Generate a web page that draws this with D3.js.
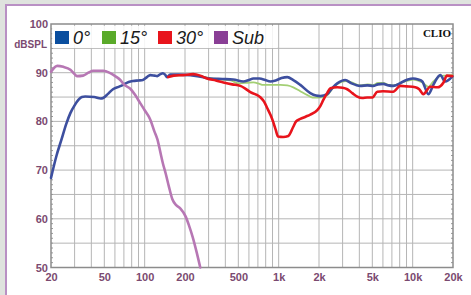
<!DOCTYPE html>
<html><head><meta charset="utf-8">
<script src="https://cdn.jsdelivr.net/npm/d3@7"></script>
<style>html,body{margin:0;padding:0;background:#dfe3de;}svg{display:block;}</style>
</head><body>
<svg id="c" width="471" height="295"></svg>
<script>
// ---- data ----
const seriesNames = ["0°", "15°", "30°", "Sub"];
const seriesColors = ["#3d4f9f", "#a3cf74", "#e8141c", "#b777b4"];
const legendColors = ["#0b4f9f", "#5aaa2a", "#e8141c", "#8a3f96"];
const yTicks = [50, 60, 70, 80, 90, 100];
const xTickValues = [20, 50, 100, 200, 500, 1000, 2000, 5000, 10000, 20000];
const xTickLabels = ["20", "50", "100", "200", "500", "1k", "2k", "5k", "10k", "20k"];

const sub = [[20,90.2],[22.3,91.4],[24.7,91.2],[27.9,90.6],[30,89.7],[31.2,89.3],[34.7,89.4],[38,90],[41.3,90.4],[49,90.4],[55.4,89.9],[61,89.2],[65.8,88.5],[70,87.6],[78.2,86.7],[85,85.4],[92.9,83.7],[100,82.3],[110,80.4],[118,78],[124.5,76.3],[131.6,73.4],[137,71.3],[143.5,69.3],[152,66.5],[161,64],[172,62.8],[185,62.1],[202,60.5],[215,58.5],[228,56.3],[245,53],[260,50]];
const deg0 = [[20,68.4],[22,73],[23.9,76.2],[26,79.5],[27.9,81.7],[30,83.3],[32,84.4],[34,85],[36,85.1],[42,85],[47,84.7],[49,84.8],[53,85.6],[58,86.6],[64,87.1],[69,87.5],[76,88.1],[82,88.3],[90,88.4],[97,88.5],[104,89.1],[110,89.5],[118,89.4],[124,89.3],[131,89.7],[137,89.9],[142,89.6],[147,89.1],[155,89.6],[180,89.6],[219,89.5],[260,89.2],[309,88.8],[380,88.7],[458,88.6],[545,88.2],[600,88.5],[647,88.8],[720,88.8],[794,88.5],[866,88.2],[950,88.4],[1050,88.9],[1160,89.1],[1286,88.5],[1450,87.5],[1722,85.8],[1900,85.3],[2045,85.2],[2306,85.6],[2500,86.8],[2738,87.8],[3140,88.5],[3500,87.8],[4065,87.3],[4600,87.4],[5080,87.3],[5500,87.6],[6040,87.7],[6600,87.4],[7160,87.3],[8510,88.2],[9200,88.6],[10100,88.8],[11000,88.6],[11800,88.2],[13100,85.6],[14260,87.5],[16080,89.5],[17500,88.2],[19770,89.2]];
const deg15 = [[150,89.2],[194,89.5],[230,89.6],[292,89],[380,88.6],[440,88.4],[500,87.8],[560,87.9],[647,88],[720,87.7],[763,87.5],[850,87.5],[1030,87.5],[1160,87.4],[1286,87],[1450,86.2],[1640,85.4],[1790,84.9],[2000,84.9],[2306,85.4],[2500,86.6],[2738,87.7],[3140,88.3],[3500,88],[4065,87.4],[4600,87.6],[5080,87.5],[5500,87.9],[6040,87.9],[6600,87.5],[7160,87.4],[8510,88.1],[10100,88.6],[11800,88],[13100,87.1],[14260,88.2],[16080,89.3],[17500,89.4],[19770,89.5]];
const deg30 = [[150,89.1],[165,89.4],[194,89.5],[230,89.7],[260,89.4],[292,88.8],[340,88.4],[387,88],[450,87.6],[517,87.3],[560,86.8],[615,86],[680,85.5],[733,84.9],[780,84],[823,82.7],[870,81.3],[910,79.9],[950,78.3],[990,76.9],[1080,76.8],[1180,77],[1286,78.9],[1350,80],[1450,80.5],[1600,81],[1722,81.4],[1942,82.3],[2050,83.2],[2154,84.4],[2300,85.8],[2430,86.8],[2738,87],[3000,86.9],[3250,86.6],[3550,85.8],[3860,85.1],[4200,84.8],[4580,84.9],[5000,84.9],[5450,86.1],[6000,86.2],[7160,86.1],[8090,87.3],[9000,87.2],[10470,87],[11200,86.6],[12000,85.6],[13540,87.1],[15280,87],[17000,88],[18000,89.4],[19770,89.3]];

// ---- drawing ----
const svg = d3.select("#c");
const L = 51, R = 453, T = 24, B = 267.5;
const x = d3.scaleLog().domain([20, 20000]).range([L, R]);
const y = d3.scaleLinear().domain([50, 100]).range([B, T]);

// panel
svg.append("rect").attr("x", 6).attr("y", 5).attr("width", 480).attr("height", 300)
  .attr("fill", "#fff").attr("stroke", "#b990c4").attr("stroke-width", 2);

// grid
const g = svg.append("g");
const vGrid = [];
for (const dec of [10, 100, 1000, 10000]) for (let k = 1; k <= 9; k++) { const f = k * dec; if (f > 20 && f < 20000) vGrid.push(f); }
g.selectAll(".vg").data(vGrid).join("line")
  .attr("x1", d => x(d)).attr("x2", d => x(d)).attr("y1", T).attr("y2", B)
  .attr("stroke", "#b5b5b5").attr("stroke-width", 1);
const hGrid = d3.range(55, 100, 5);
g.selectAll(".hg").data(hGrid).join("line")
  .attr("x1", L).attr("x2", R).attr("y1", d => y(d)).attr("y2", d => y(d))
  .attr("stroke", "#b5b5b5").attr("stroke-width", 1);

// minor ticks on left/right
const minor = d3.range(51, 100, 1);
g.selectAll(".ml").data(minor).join("line")
  .attr("x1", L).attr("x2", L + 2).attr("y1", d => y(d)).attr("y2", d => y(d)).attr("stroke", "#999");
g.selectAll(".mr").data(minor).join("line")
  .attr("x1", R - 2).attr("x2", R).attr("y1", d => y(d)).attr("y2", d => y(d)).attr("stroke", "#999");

// frame
svg.append("rect").attr("x", L).attr("y", T).attr("width", R - L).attr("height", B - T)
  .attr("fill", "none").attr("stroke", "#8c8c8c").attr("stroke-width", 1.5);

// legend background
svg.append("rect").attr("x", 52).attr("y", 26).attr("width", 225).attr("height", 22)
  .attr("fill", "#fff").attr("fill-opacity", 0.85);

// curves
const line = d3.line().x(d => x(d[0])).y(d => y(d[1])).curve(d3.curveMonotoneX);
const order = [[deg15, 1], [deg0, 0], [deg30, 2], [sub, 3]];
svg.append("g").selectAll("path").data(order).join("path")
  .attr("d", d => line(d[0])).attr("fill", "none")
  .attr("stroke", d => seriesColors[d[1]]).attr("stroke-width", d => d[1] === 1 ? 1.8 : 2.6)
  .attr("stroke-linejoin", "round").attr("stroke-linecap", "round");

// legend
const legX = [55, 102, 158, 214];
const lg = svg.append("g");
seriesNames.forEach((n, i) => {
  lg.append("rect").attr("x", legX[i]).attr("y", 31).attr("width", 14).attr("height", 13).attr("fill", legendColors[i]);
  lg.append("text").attr("x", legX[i] + 18).attr("y", 44).text(n)
    .attr("font-family", "Liberation Sans, Arial, sans-serif").attr("font-style", "italic")
    .attr("font-size", 18).attr("fill", "#1a1a1a");
});

// CLIO
svg.append("text").attr("x", 451).attr("y", 37).attr("text-anchor", "end").text("CLIO")
  .attr("font-family", "Liberation Serif, serif").attr("font-weight", "bold").attr("font-size", 11).attr("fill", "#111");

// axis labels
const labCol = "#7b4a70";
const ya = svg.append("g").attr("transform", `translate(${L - 3},0)`)
  .call(d3.axisLeft(y).tickValues(yTicks).tickSize(0).tickPadding(0));
ya.select(".domain").remove();
ya.selectAll("text").attr("font-family", "Liberation Sans, Arial, sans-serif").attr("font-weight", "bold")
  .attr("font-size", 11).attr("fill", labCol);
svg.append("text").attr("x", 47).attr("y", 48).attr("text-anchor", "end").text("dBSPL")
  .attr("font-family", "Liberation Sans, Arial, sans-serif").attr("font-weight", "bold").attr("font-size", 10).attr("fill", labCol);

const xa = svg.append("g").attr("transform", `translate(0,${B + 6})`)
  .call(d3.axisBottom(x).tickValues(xTickValues).tickFormat((d, i) => xTickLabels[i]).tickSize(0).tickPadding(0));
xa.select(".domain").remove();
xa.selectAll("text").attr("font-family", "Liberation Sans, Arial, sans-serif").attr("font-weight", "bold")
  .attr("font-size", 11).attr("fill", labCol);
</script>
</body></html>
